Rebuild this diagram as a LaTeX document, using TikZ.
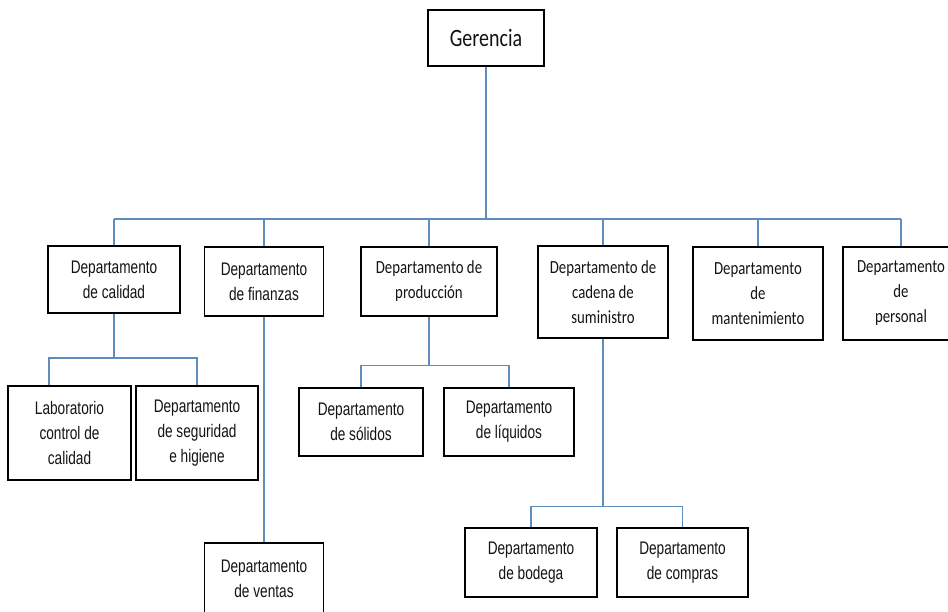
\documentclass[tikz,border=0pt]{standalone}
\usepackage{fontspec}
\setmainfont{Liberation Sans}
\newfontfamily\narrowfont[FakeStretch=0.75]{Liberation Sans}
\newfontfamily\calfont[FakeStretch=0.80]{Carlito}
\definecolor{linkblue}{RGB}{94,141,189}
\definecolor{boxtext}{RGB}{20,20,20}
\begin{document}
\begin{tikzpicture}[x=1pt,y=-1pt,
  box/.style={draw=black, line width=1.4pt, inner sep=0pt, align=center, text=boxtext},
  narrowbox/.style={box, font=\narrowfont\fontsize{18.2}{25}\selectfont},
  calbox/.style={box, font=\calfont\fontsize{18.5}{25}\selectfont},
  link/.style={draw=linkblue, line width=1.5pt}]
\useasboundingbox (0,0) rectangle (948,612);
\clip (0,0) rectangle (948,612);
\fill[white] (0,0) rectangle (948,612);

% top of the chart
\node[calbox, font=\calfont\fontsize{25}{25}\selectfont,
      minimum width=116pt, minimum height=56pt] (ger) at (486,38) {Gerencia};
\coordinate (hub) at (486,219);

% first level
\node[narrowbox, minimum width=132pt, minimum height=67pt] (cal) at (114,279.5)
  {Departamento\\de calidad};
\node[narrowbox, minimum width=119pt, minimum height=69pt] (fin) at (264,281.5)
  {Departamento\\de finanzas};
\node[calbox, minimum width=136pt, minimum height=69pt] (pro) at (429,281.5)
  {Departamento de\\producción};
\node[calbox, minimum width=130pt, minimum height=92pt] (cad) at (603,292)
  {Departamento de\\cadena de\\suministro};
\node[calbox, minimum width=130pt, minimum height=93pt] (man) at (758,293.5)
  {Departamento\\de\\mantenimiento};
\node[calbox, minimum width=116pt, minimum height=93pt] (per) at (901,293.5)
  {Departamento\\de\\personal};

% second level
\node[narrowbox, minimum width=123pt, minimum height=94pt] (lab) at (69.5,433)
  {Laboratorio\\control de\\calidad};
\node[narrowbox, minimum width=122pt, minimum height=94pt] (seg) at (197,433)
  {Departamento\\de seguridad\\e higiene};
\node[narrowbox, minimum width=124pt, minimum height=68pt] (sol) at (361,422)
  {Departamento\\de sólidos};
\node[narrowbox, minimum width=130pt, minimum height=68pt] (liq) at (509,422)
  {Departamento\\de líquidos};
\node[narrowbox, minimum width=119pt, minimum height=72pt] (ven) at (264,579)
  {Departamento\\de ventas};
\node[narrowbox, minimum width=132pt, minimum height=69pt] (bod) at (531,562.5)
  {Departamento\\de bodega};
\node[narrowbox, minimum width=131pt, minimum height=69pt] (com) at (682.5,562.5)
  {Departamento\\de compras};

% connectors
\draw[link] (ger.south) -- (hub);
\draw[link] (cal.north |- hub) -- (per.north |- hub);
\foreach \n in {cal,fin,pro,cad,man,per}
  \draw[link] (\n.north |- hub) -- (\n.north);

\draw[link] (cal.south) -- ++(0,44.5) -| ([xshift=-20.5pt]lab.north);
\draw[link] (cal.south) ++(0,44.5) -| (seg.north);

\draw[link] (fin.south) -- (ven.north);

\draw[link] (pro.south) -- ++(0,49) -| (sol.north);
\draw[link] (pro.south) ++(0,49) -| (liq.north);

\draw[link] (cad.south) -- ++(0,168) -| (bod.north);
\draw[link] (cad.south) ++(0,168) -| (com.north);
\end{tikzpicture}
\end{document}
